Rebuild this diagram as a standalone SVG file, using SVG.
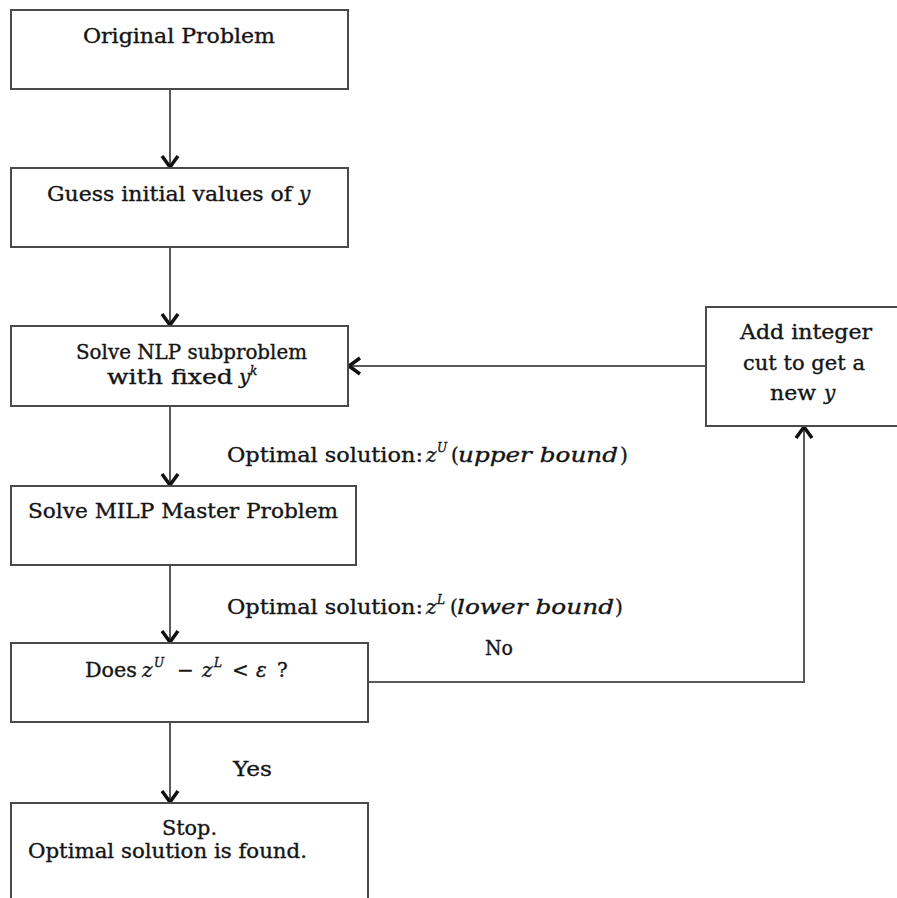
<svg xmlns="http://www.w3.org/2000/svg" width="897" height="898" viewBox="0 0 897 898">
  <style>
    .box { fill: #ffffff; stroke: #4a4a4a; stroke-width: 2; }
    .link { fill: none; stroke: #5a5a5a; stroke-width: 2; }
    .t { font-family: "DejaVu Serif", "Liberation Serif", serif; font-size: 20px; fill: #151515; stroke: #151515; stroke-width: 0.35; }
    .m { font-style: italic; }
    .sup { font-style: italic; font-size: 12px; }
  </style>
  <defs>
    <marker id="chev" markerUnits="userSpaceOnUse" markerWidth="20" markerHeight="20" viewBox="-14 -10 16 20" refX="0" refY="0" orient="auto">
      <path d="M-11,-8 L0,0 L-11,8" fill="none" stroke="#111" stroke-width="3.5" stroke-linejoin="miter"/>
    </marker>
  </defs>

  <rect width="897" height="898" fill="#ffffff"/>

  <!-- connectors -->
  <g id="connectors">
    <line class="link" x1="170" y1="89" x2="170" y2="167" marker-end="url(#chev)"/>
    <line class="link" x1="170" y1="247" x2="170" y2="325" marker-end="url(#chev)"/>
    <line class="link" x1="170" y1="406" x2="170" y2="485" marker-end="url(#chev)"/>
    <line class="link" x1="170" y1="565" x2="170" y2="642" marker-end="url(#chev)"/>
    <line class="link" x1="170" y1="722" x2="170" y2="802" marker-end="url(#chev)"/>
    <line class="link" x1="706" y1="366" x2="349" y2="366" marker-end="url(#chev)"/>
    <polyline class="link" points="368,682 804,682 804,427" marker-end="url(#chev)"/>
  </g>

  <!-- edge labels -->
  <g id="labels">
    <text class="t" y="462">
      <tspan x="227" textLength="196" lengthAdjust="spacingAndGlyphs">Optimal solution:</tspan>
      <tspan x="426" class="m">z</tspan><tspan x="437" y="452" class="sup">U</tspan>
      <tspan x="451" y="462">(</tspan><tspan x="458" class="m" textLength="160" lengthAdjust="spacingAndGlyphs">upper bound</tspan><tspan x="620">)</tspan>
    </text>
    <text class="t" y="614">
      <tspan x="227" textLength="196" lengthAdjust="spacingAndGlyphs">Optimal solution:</tspan>
      <tspan x="426" class="m">z</tspan><tspan x="437" y="604" class="sup">L</tspan>
      <tspan x="450" y="614">(</tspan><tspan x="457" class="m" textLength="157" lengthAdjust="spacingAndGlyphs">lower bound</tspan><tspan x="615">)</tspan>
    </text>
    <text class="t" x="485" y="655" textLength="28" lengthAdjust="spacingAndGlyphs">No</text>
    <text class="t" x="233" y="776" textLength="39" lengthAdjust="spacingAndGlyphs">Yes</text>
  </g>

  <!-- nodes -->
  <g id="original-problem">
    <rect class="box" x="11" y="10" width="337" height="79"/>
    <text class="t" x="83" y="43" textLength="192" lengthAdjust="spacingAndGlyphs">Original Problem</text>
  </g>

  <g id="guess-initial">
    <rect class="box" x="11" y="168" width="337" height="79"/>
    <text class="t" y="201"><tspan x="47" textLength="245" lengthAdjust="spacingAndGlyphs">Guess initial values of</tspan><tspan x="299" class="m">y</tspan></text>
  </g>

  <g id="solve-nlp">
    <rect class="box" x="11" y="326" width="337" height="80"/>
    <text class="t" x="76" y="359" textLength="231" lengthAdjust="spacingAndGlyphs">Solve NLP subproblem</text>
    <text class="t" y="384"><tspan x="107" textLength="126" lengthAdjust="spacingAndGlyphs">with fixed</tspan><tspan x="239" class="m">y</tspan><tspan x="250" y="375" class="sup">k</tspan></text>
  </g>

  <g id="solve-milp">
    <rect class="box" x="11" y="486" width="345" height="79"/>
    <text class="t" x="28" y="518" textLength="310" lengthAdjust="spacingAndGlyphs">Solve MILP Master Problem</text>
  </g>

  <g id="convergence-check">
    <rect class="box" x="11" y="643" width="357" height="79"/>
    <text class="t" y="677">
      <tspan x="85" textLength="52" lengthAdjust="spacingAndGlyphs">Does</tspan>
      <tspan x="142" class="m">z</tspan><tspan x="154" y="667" class="sup">U</tspan>
      <tspan x="177" y="677">−</tspan>
      <tspan x="202" class="m">z</tspan><tspan x="214" y="667" class="sup">L</tspan>
      <tspan x="232" y="677">&lt;</tspan>
      <tspan x="256" class="m">ε</tspan>
      <tspan x="277">?</tspan>
    </text>
  </g>

  <g id="stop">
    <rect class="box" x="11" y="803" width="357" height="110"/>
    <text class="t" x="162" y="835" textLength="55" lengthAdjust="spacingAndGlyphs">Stop.</text>
    <text class="t" x="28" y="858" textLength="279" lengthAdjust="spacingAndGlyphs">Optimal solution is found.</text>
  </g>

  <g id="integer-cut">
    <rect class="box" x="706" y="307" width="200" height="119"/>
    <text class="t" x="740" y="339" textLength="132" lengthAdjust="spacingAndGlyphs">Add integer</text>
    <text class="t" x="743" y="370" textLength="122" lengthAdjust="spacingAndGlyphs">cut to get a</text>
    <text class="t" y="400"><tspan x="770" textLength="46" lengthAdjust="spacingAndGlyphs">new</tspan><tspan x="824" class="m">y</tspan></text>
  </g>
</svg>
